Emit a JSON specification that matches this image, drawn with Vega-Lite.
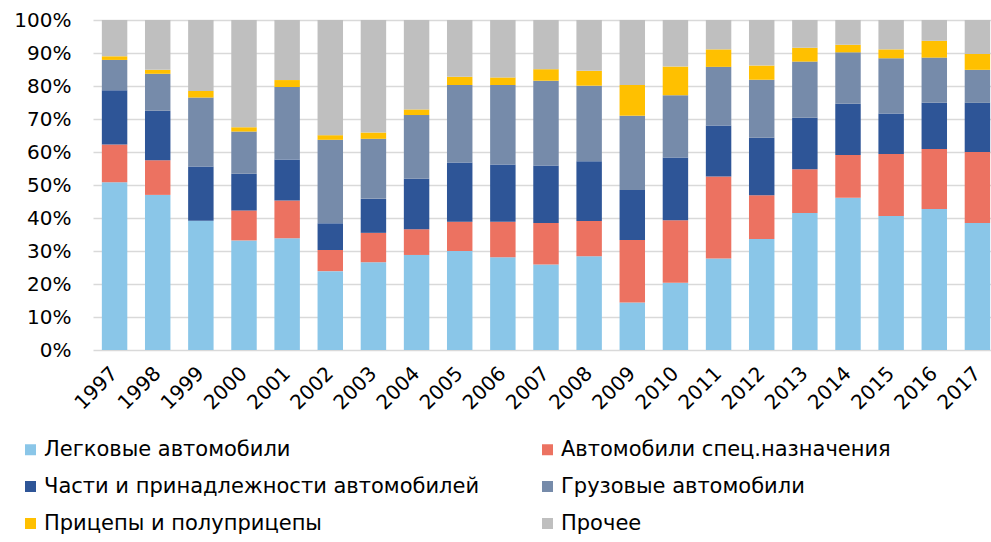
{
  "$schema": "https://vega.github.io/schema/vega-lite/v6.json",
  "autosize": "none",
  "padding": {"left": 93, "top": 20, "right": 0, "bottom": 192},
  "width": 898,
  "height": 330,
  "background": "white",
  "config": {
    "font": "DejaVu Sans",
    "view": {"stroke": null},
    "axis": {"labelFont": "DejaVu Sans", "labelColor": "#000000", "labelFontSize": 20}
  },
  "data": {"values": [
    {"year": "1997", "a": 50.8, "b": 11.5, "c": 16.4, "d": 9.2, "e": 1.1, "f": 11.0},
    {"year": "1998", "a": 47.0, "b": 10.5, "c": 15.0, "d": 11.2, "e": 1.2, "f": 15.1},
    {"year": "1999", "a": 39.2, "b": 0, "c": 16.4, "d": 20.9, "e": 2.0, "f": 21.5},
    {"year": "2000", "a": 33.2, "b": 9.1, "c": 11.1, "d": 12.8, "e": 1.3, "f": 32.5},
    {"year": "2001", "a": 33.9, "b": 11.4, "c": 12.4, "d": 22.0, "e": 2.1, "f": 18.2},
    {"year": "2002", "a": 23.9, "b": 6.4, "c": 8.1, "d": 25.3, "e": 1.4, "f": 34.9},
    {"year": "2003", "a": 26.6, "b": 8.9, "c": 10.3, "d": 18.2, "e": 1.9, "f": 34.1},
    {"year": "2004", "a": 28.8, "b": 7.8, "c": 15.3, "d": 19.3, "e": 1.7, "f": 27.1},
    {"year": "2005", "a": 30.0, "b": 8.9, "c": 17.9, "d": 23.5, "e": 2.5, "f": 17.2},
    {"year": "2006", "a": 28.1, "b": 10.8, "c": 17.3, "d": 24.1, "e": 2.3, "f": 17.4},
    {"year": "2007", "a": 25.9, "b": 12.6, "c": 17.4, "d": 25.7, "e": 3.5, "f": 14.9},
    {"year": "2008", "a": 28.4, "b": 10.7, "c": 18.1, "d": 22.9, "e": 4.5, "f": 15.4},
    {"year": "2009", "a": 14.4, "b": 18.9, "c": 15.2, "d": 22.5, "e": 9.3, "f": 19.7},
    {"year": "2010", "a": 20.4, "b": 18.9, "c": 19.0, "d": 18.9, "e": 8.7, "f": 14.1},
    {"year": "2011", "a": 27.7, "b": 24.9, "c": 15.4, "d": 17.8, "e": 5.3, "f": 8.9},
    {"year": "2012", "a": 33.6, "b": 13.3, "c": 17.4, "d": 17.6, "e": 4.3, "f": 13.8},
    {"year": "2013", "a": 41.5, "b": 13.3, "c": 15.6, "d": 17.0, "e": 4.2, "f": 8.4},
    {"year": "2014", "a": 46.1, "b": 13.0, "c": 15.5, "d": 15.6, "e": 2.3, "f": 7.5},
    {"year": "2015", "a": 40.6, "b": 18.8, "c": 12.3, "d": 16.7, "e": 2.7, "f": 8.9},
    {"year": "2016", "a": 42.7, "b": 18.2, "c": 14.0, "d": 13.7, "e": 5.1, "f": 6.3},
    {"year": "2017", "a": 38.5, "b": 21.5, "c": 14.9, "d": 10.0, "e": 4.8, "f": 10.3}
  ]},
  "transform": [
    {"fold": ["a", "b", "c", "d", "e", "f"], "as": ["key", "value"]},
    {"lookup": "key", "from": {"data": {"values": [
      {"key": "a", "cat": "Легковые автомобили", "k": 1},
      {"key": "b", "cat": "Автомобили спец.назначения", "k": 2},
      {"key": "c", "cat": "Части и принадлежности автомобилей", "k": 3},
      {"key": "d", "cat": "Грузовые автомобили", "k": 4},
      {"key": "e", "cat": "Прицепы и полуприцепы", "k": 5},
      {"key": "f", "cat": "Прочее", "k": 6}
    ]}, "key": "key", "fields": ["cat", "k"]}}
  ],
  "mark": {"type": "bar"},
  "encoding": {
    "x": {
      "field": "year", "type": "ordinal",
      "scale": {"range": [0, 906], "paddingInner": 0.41, "paddingOuter": 0.205},
      "axis": {"title": null, "labelAngle": -45, "labelAlign": "right", "labelBaseline": "middle", "labelPadding": 20, "ticks": false, "domain": false}
    },
    "y": {
      "field": "value", "type": "quantitative", "stack": "normalize",
      "scale": {"domain": [0, 1], "nice": false},
      "axis": {"title": null, "format": ".0%", "values": [0, 0.1, 0.2, 0.3, 0.4, 0.5, 0.6, 0.7, 0.8, 0.9, 1.0], "grid": true, "gridColor": "#d9d9d9", "gridWidth": 1.5, "domain": false, "ticks": false, "labelPadding": 22}
    },
    "order": {"field": "k", "type": "quantitative", "sort": "ascending"},
    "color": {
      "field": "cat", "type": "nominal",
      "sort": ["Легковые автомобили", "Автомобили спец.назначения", "Части и принадлежности автомобилей", "Грузовые автомобили", "Прицепы и полуприцепы", "Прочее"],
      "scale": {
        "domain": ["Легковые автомобили", "Автомобили спец.назначения", "Части и принадлежности автомобилей", "Грузовые автомобили", "Прицепы и полуприцепы", "Прочее"],
        "range": ["#8AC6E8", "#EC7261", "#2E5597", "#768BAA", "#FFC000", "#BFBFBF"]
      },
      "legend": {
        "title": null, "orient": "none", "legendX": -73, "legendY": 419, "direction": "horizontal", "columns": 2,
        "gridAlign": "all", "columnPadding": 57, "rowPadding": 15,
        "symbolType": "square", "symbolSize": 121, "symbolStrokeWidth": 0, "symbolOffset": 0,
        "labelFontSize": 21, "labelColor": "#000000", "labelOffset": 3, "labelLimit": 600
      }
    }
  }
}
